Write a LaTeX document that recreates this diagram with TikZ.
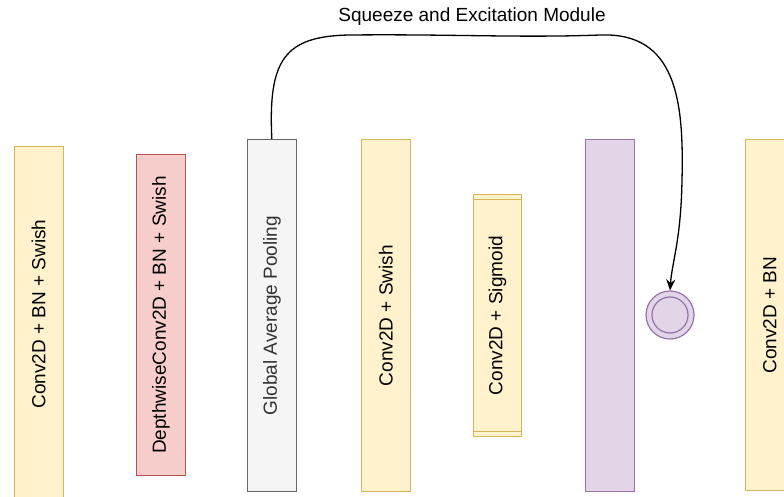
\documentclass[tikz,border=0pt]{standalone}
\usepackage{fontspec}
\setmainfont{Liberation Sans}
\usetikzlibrary{arrows.meta}

\definecolor{ylwfill}{HTML}{FFF2CC}
\definecolor{ylwline}{HTML}{D6B656}
\definecolor{redfill}{HTML}{F8CECC}
\definecolor{redline}{HTML}{B85450}
\definecolor{gryfill}{HTML}{F5F5F5}
\definecolor{gryline}{HTML}{666666}
\definecolor{prpfill}{HTML}{E1D5E7}
\definecolor{prpline}{HTML}{9673A6}
\definecolor{gtext}{HTML}{333333}

\newcommand{\lbfont}{\fontsize{19}{22}\selectfont}

\tikzset{
  layer/.style={rectangle, line width=1.2pt, inner sep=0pt, anchor=north west,
                minimum width=48.5pt},
  ylwbox/.style={layer, fill=ylwfill, draw=ylwline},
  redbox/.style={layer, fill=redfill, draw=redline},
  grybox/.style={layer, fill=gryfill, draw=gryline},
  prpbox/.style={layer, fill=prpfill, draw=prpline},
  lbl/.style={rotate=90, font=\lbfont, text=black, inner sep=0pt},
  flow/.style={line width=1.3pt, draw=black,
               -{Stealth[length=11pt,width=9pt]}},
}

\begin{document}
\begin{tikzpicture}[x=1pt, y=-1pt]
  \useasboundingbox (0,0) rectangle (784,497);

  % layer blocks
  \node[ylwbox, minimum height=380pt] (c1) at (14,146) {};
  \node[lbl] (c1t) at (38.5,314) {Conv2D + BN + Swish};

  \node[redbox, minimum height=321pt] (dw) at (136,154) {};
  \node[lbl] (dwt) at (dw.center) {DepthwiseConv2D + BN + Swish};

  \node[grybox, minimum height=352pt] (gap) at (247,139) {};
  \node[lbl, text=gtext] (gapt) at (gap.center) {Global Average Pooling};

  \node[ylwbox, minimum height=352pt] (c2) at (361,139) {};
  \node[lbl] (c2t) at (c2.center) {Conv2D + Swish};

  \node[ylwbox, minimum height=242pt] (c3) at (472.5,194) {};
  \draw[ylwline, line width=1.2pt]
    ([yshift=-5.5pt]c3.north west) -- ([yshift=-5.5pt]c3.north east)
    ([yshift=5.5pt]c3.south west) -- ([yshift=5.5pt]c3.south east);
  \node[lbl] (c3t) at (c3.center) {Conv2D + Sigmoid};

  \node[prpbox, minimum height=352pt] (mul) at (585,139) {};

  \node[ylwbox, minimum height=351pt] (c4) at (745,139) {};
  \node[lbl] (c4t) at (c4.center) {Conv2D + BN};

  % element-wise scaling node
  \node[circle, minimum size=48pt, inner sep=0pt, fill=prpfill, draw=prpline,
        line width=1.2pt] (se) at (670,315) {};
  \node[circle, minimum size=36pt, inner sep=0pt, draw=prpline,
        line width=1.2pt] (sein) at (se.center) {};

  % squeeze-and-excitation branch
  \node[font=\lbfont, text=black] (title) at (472,17) {Squeeze and Excitation Module};
  \draw[flow] (gap.north)
      .. controls (268,60) and (284,36) .. (350,35)
      .. controls (450,34) and (520,38) .. (600,35)
      .. controls (676,32) and (684,100) .. (682,180)
      .. controls (681,240) and (672,262) .. (se.north);
\end{tikzpicture}
\end{document}
